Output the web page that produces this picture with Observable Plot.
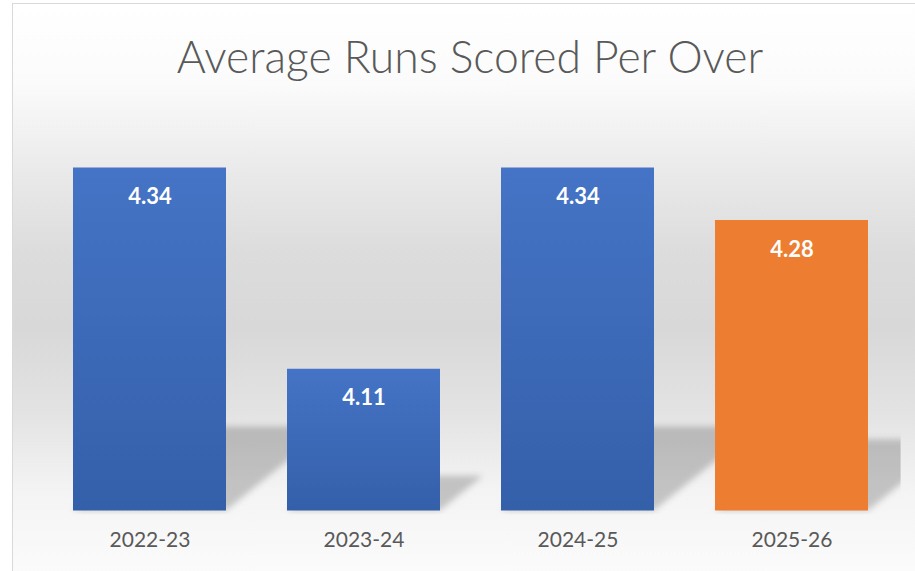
<!DOCTYPE html>
<html>
<head>
<meta charset="utf-8">
<script src="https://cdn.jsdelivr.net/npm/d3@7"></script>
<script src="https://cdn.jsdelivr.net/npm/@observablehq/plot@0.6"></script>
<style>
  html, body { margin: 0; padding: 0; background: #ffffff; }
  body { width: 915px; height: 571px; overflow: hidden; position: relative; }
  #chart {
    position: absolute; left: 12px; top: 3px; width: 903px; height: 568px;
    border-left: 1px solid #d9d9d9; border-top: 1px solid #d9d9d9;
    background: linear-gradient(to bottom, #ffffff 0%, #fbfbfb 14%, #e9e9e9 30%, #dcdcdc 44%, #d8d8d8 57%, #e3e3e3 72%, #f4f4f4 86%, #fbfbfb 100%);
  }
  #title {
    height: 100px; box-sizing: border-box; padding-top: 25px; padding-left: 11px;
    text-align: center; font-family: Lato, sans-serif; font-weight: 300; font-size: 44.5px;
    line-height: normal; color: #595959; white-space: nowrap;
  }
  #plot svg { display: block; }
</style>
</head>
<body>
<div id="chart">
  <div id="title">Average Runs Scored Per Over</div>
  <div id="plot"></div>
</div>
<script>
const seasons = ["2022-23", "2023-24", "2024-25", "2025-26"];
const runsPerOver = [4.34, 4.11, 4.34, 4.28];
const highlightSeason = "2025-26";
const yDomain = [3.948, 4.40];

const data = seasons.map((s, i) => ({season: s, value: runsPerOver[i], highlight: s === highlightSeason}));

const mL = 29.4, mR = 16.4, mT = 11, mB = 60.5, W = 902, H = 467;

const chart = Plot.plot({
  width: W, height: H,
  marginLeft: mL, marginRight: mR, marginTop: mT, marginBottom: mB,
  style: "background: transparent; font-family: Lato, sans-serif; font-size: 21px; color: #595959; overflow: visible;",
  x: {domain: seasons, paddingInner: 0.2857, paddingOuter: 0.1429, label: null, tickSize: 0, tickPadding: 21},
  y: {domain: yDomain, axis: null},
  marks: [
    Plot.barY(data, {x: "season", y1: yDomain[0], y2: "value", fill: "#000", fillOpacity: 0.2}),
    Plot.barY(data, {filter: d => !d.highlight, x: "season", y1: yDomain[0], y2: "value", fill: "url(#barBlue)"}),
    Plot.barY(data, {filter: d => d.highlight, x: "season", y1: yDomain[0], y2: "value", fill: "#ed7d31"}),
    Plot.text(data, {x: "season", y: "value", text: d => d.value.toFixed(2), dy: 29, fill: "white", fontWeight: "bold", fontSize: 22})
  ]
});

document.getElementById("plot").appendChild(chart);

// defs: gradient, blur filter, clip
const ns = "http://www.w3.org/2000/svg";
const defs = document.createElementNS(ns, "defs");
defs.innerHTML = `
  <linearGradient id="barBlue" x1="0" y1="0" x2="0" y2="1">
    <stop offset="0" stop-color="#4574c6"/>
    <stop offset="1" stop-color="#345fa9"/>
  </linearGradient>
  <filter id="shadowBlur" x="-20%" y="-50%" width="140%" height="200%">
    <feGaussianBlur stdDeviation="3"/>
  </filter>
  <clipPath id="plotClip"><rect x="${mL}" y="0" width="${W - mL - mR + 2}" height="${H - mB + 4}"/></clipPath>`;
chart.insertBefore(defs, chart.firstChild);

// perspective shadow: flatten and skew the first bar mark (the shadow) about the baseline
const y0 = chart.scale("y").apply(yDomain[0]);
const shadow = chart.querySelectorAll('g[aria-label="bar"]')[0];
if (shadow) {
  const clipG = document.createElementNS(ns, "g");
  clipG.setAttribute("clip-path", "url(#plotClip)");
  const blurG = document.createElementNS(ns, "g");
  blurG.setAttribute("filter", "url(#shadowBlur)");
  const tG = document.createElementNS(ns, "g");
  tG.setAttribute("transform", `translate(0,${y0}) skewX(-51) scale(1,0.245) translate(0,${-y0})`);
  shadow.parentNode.insertBefore(clipG, shadow);
  clipG.appendChild(blurG);
  blurG.appendChild(tG);
  tG.appendChild(shadow);
}
</script>
</body>
</html>
